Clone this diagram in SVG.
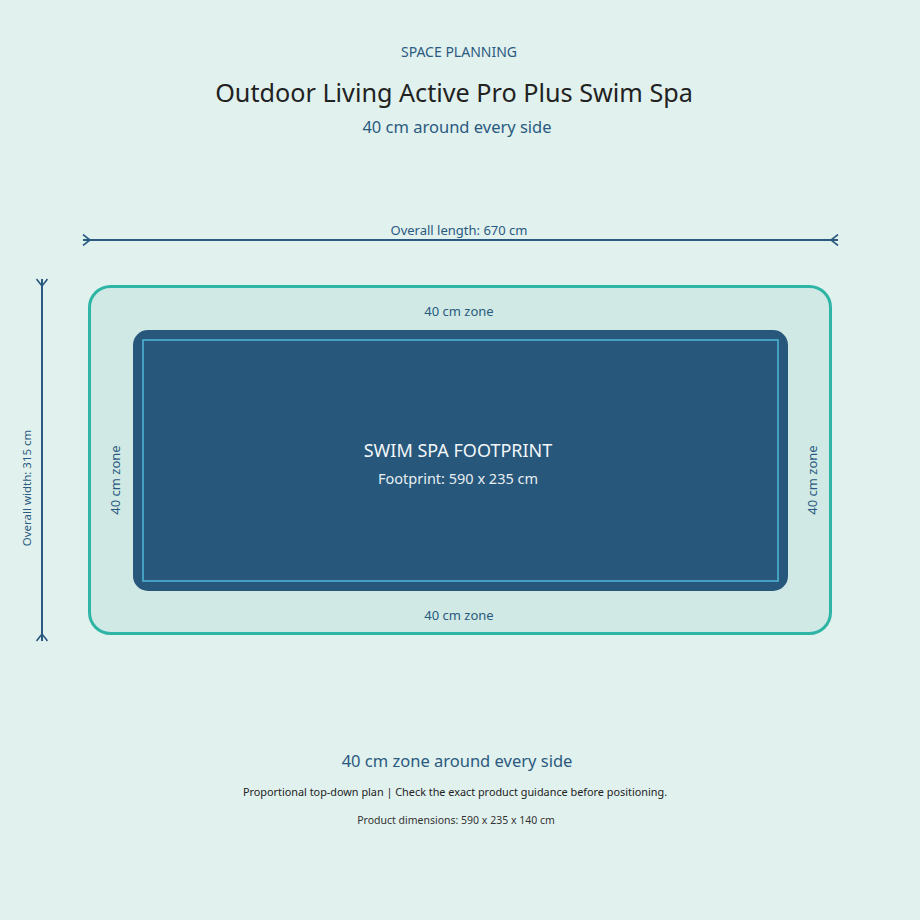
<svg xmlns="http://www.w3.org/2000/svg" width="920" height="920" viewBox="0 0 920 920">
<defs>
<marker id="chev" viewBox="0 0 10 12" refX="9" refY="6" markerWidth="10" markerHeight="12" markerUnits="userSpaceOnUse" orient="auto-start-reverse">
<path d="M9,0.5 L2,6 L9,11.5" fill="none" stroke="#2a5a80" stroke-width="1.6"/>
</marker>
</defs>
<style>
text{font-family:"Noto Sans","Open Sans","DejaVu Sans",sans-serif;text-anchor:middle}
.blue{fill:#2a5a80}
.dim{stroke:#2a5a80;stroke-width:2;fill:none}
.zl{font-size:13px;fill:#2a5a80}
</style>
<rect width="920" height="920" fill="#e1f1ee"/>
<g id="header">
<text x="459" y="57" class="blue" font-size="14">SPACE PLANNING</text>
<text x="454" y="102" fill="#222" font-size="25.2">Outdoor Living Active Pro Plus Swim Spa</text>
<text x="457" y="133" class="blue" font-size="16.5">40 cm around every side</text>
</g>
<g id="connectors">
<line class="dim" x1="83" y1="240" x2="838" y2="240" marker-start="url(#chev)" marker-end="url(#chev)"/>
<line class="dim" x1="42" y1="279" x2="42" y2="641" marker-start="url(#chev)" marker-end="url(#chev)"/>
</g>
<g id="length-label"><text x="459" y="235" class="zl">Overall length: 670 cm</text></g>
<g id="width-label"><text transform="translate(31,488) rotate(-90)" class="blue" font-size="11.5">Overall width: 315 cm</text></g>
<g id="zone">
<rect x="89.5" y="286.5" width="741" height="347" rx="21" fill="#d0e9e4" stroke="#2fb5a5" stroke-width="3"/>
<text x="459" y="316" class="zl">40 cm zone</text>
<text x="459" y="620" class="zl">40 cm zone</text>
<text transform="translate(120,480) rotate(-90)" class="zl">40 cm zone</text>
<text transform="translate(817,480) rotate(-90)" class="zl">40 cm zone</text>
</g>
<g id="spa">
<rect x="133" y="330" width="655" height="261" rx="15" fill="#27577b"/>
<rect x="143" y="340" width="635" height="241" fill="none" stroke="#4fb8d8" stroke-width="1.5"/>
<text x="458" y="457" fill="#f2f6f8" font-size="18">SWIM SPA FOOTPRINT</text>
<text x="458" y="484" fill="#e6eef2" font-size="14.5">Footprint: 590 x 235 cm</text>
</g>
<g id="footer">
<text x="457" y="767" class="blue" font-size="16.5">40 cm zone around every side</text>
<text x="455" y="796" fill="#222" font-size="10.85">Proportional top-down plan | Check the exact product guidance before positioning.</text>
<text x="456" y="824" fill="#333" font-size="10.5">Product dimensions: 590 x 235 x 140 cm</text>
</g>
</svg>
